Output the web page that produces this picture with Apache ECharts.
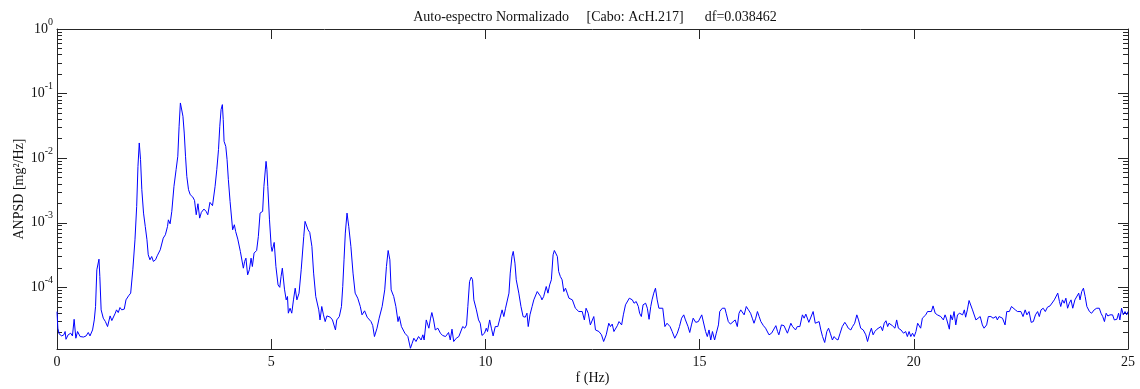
<!DOCTYPE html>
<html><head><meta charset="utf-8">
<script src="https://cdn.jsdelivr.net/npm/echarts@6.0.0/dist/echarts.min.js"></script>
<style>html,body{margin:0;padding:0;background:#fff}#chart{width:1140px;height:389px}</style>
</head><body><div id="chart"></div>
<script>
const titleText = 'Auto-espectro Normalizado     [Cabo: AcH.217]      df=0.038462';
const xAxisName = 'f (Hz)';
const yAxisName = 'ANPSD [mg\u00B2/Hz]';
const xTicks = [0, 5, 10, 15, 20, 25];
const yRange = [1.11e-5, 1];

const freqHz = [
0, 0.02, 0.05, 0.11, 0.16, 0.19, 0.21, 0.26, 0.32, 0.36,
0.40, 0.44, 0.48, 0.54, 0.62, 0.68, 0.73, 0.77, 0.83, 0.87,
0.90, 0.93, 0.98, 1.00, 1.03, 1.08, 1.13, 1.18, 1.24, 1.28,
1.32, 1.36, 1.39, 1.43, 1.47, 1.51, 1.57, 1.61, 1.67, 1.72,
1.77, 1.82, 1.86, 1.89, 1.92, 1.95, 1.98, 2.02, 2.06, 2.10,
2.13, 2.17, 2.21, 2.25, 2.30, 2.34, 2.41, 2.45, 2.48, 2.53,
2.58, 2.60, 2.64, 2.68, 2.73, 2.78, 2.82, 2.85, 2.88, 2.91,
2.94, 2.97, 3.00, 3.03, 3.07, 3.11, 3.17, 3.21, 3.25, 3.29,
3.33, 3.37, 3.43, 3.48, 3.52, 3.57, 3.63, 3.69, 3.73, 3.77,
3.80, 3.83, 3.86, 3.88, 3.90, 3.94, 3.97, 4.00, 4.04, 4.10,
4.14, 4.17, 4.22, 4.28, 4.31, 4.35, 4.38, 4.41, 4.45, 4.49,
4.53, 4.56, 4.60, 4.66, 4.70, 4.74, 4.80, 4.83, 4.88, 4.90,
4.92, 4.96, 5.00, 5.02, 5.07, 5.11, 5.16, 5.20, 5.23, 5.26,
5.31, 5.35, 5.38, 5.40, 5.44, 5.48, 5.52, 5.56, 5.60, 5.65,
5.70, 5.76, 5.79, 5.82, 5.86, 5.90, 5.95, 5.99, 6.04, 6.11,
6.14, 6.18, 6.22, 6.26, 6.30, 6.38, 6.43, 6.50, 6.53, 6.59,
6.64, 6.67, 6.70, 6.73, 6.77, 6.81, 6.86, 6.91, 6.96, 7.02,
7.08, 7.12, 7.18, 7.24, 7.27, 7.33, 7.37, 7.41, 7.47, 7.52,
7.59, 7.65, 7.69, 7.73, 7.77, 7.80, 7.86, 7.91, 7.96, 7.99,
8.04, 8.07, 8.12, 8.19, 8.25, 8.29, 8.33, 8.38, 8.44, 8.50,
8.54, 8.57, 8.62, 8.68, 8.72, 8.75, 8.79, 8.83, 8.89, 8.95,
9.00, 9.07, 9.10, 9.14, 9.18, 9.22, 9.26, 9.32, 9.38, 9.42,
9.47, 9.52, 9.56, 9.59, 9.63, 9.67, 9.70, 9.73, 9.79, 9.84,
9.88, 9.92, 9.98, 10.02, 10.05, 10.10, 10.14, 10.18, 10.23, 10.29,
10.33, 10.39, 10.43, 10.47, 10.51, 10.55, 10.58, 10.62, 10.65, 10.69,
10.72, 10.78, 10.83, 10.88, 10.93, 10.97, 11.00, 11.04, 11.09, 11.13,
11.17, 11.21, 11.25, 11.29, 11.32, 11.36, 11.42, 11.46, 11.50, 11.54,
11.58, 11.61, 11.64, 11.68, 11.71, 11.75, 11.79, 11.83, 11.87, 11.91,
11.95, 11.99, 12.03, 12.06, 12.10, 12.14, 12.18, 12.22, 12.26, 12.31,
12.35, 12.40, 12.45, 12.49, 12.53, 12.57, 12.61, 12.65, 12.71, 12.76,
12.82, 12.88, 12.92, 12.96, 13.00, 13.04, 13.08, 13.12, 13.18, 13.22,
13.27, 13.31, 13.36, 13.43, 13.47, 13.52, 13.57, 13.60, 13.64, 13.68,
13.74, 13.78, 13.82, 13.86, 13.89, 13.93, 13.97, 14.01, 14.05, 14.09,
14.14, 14.19, 14.24, 14.31, 14.36, 14.42, 14.48, 14.53, 14.58, 14.63,
14.67, 14.73, 14.77, 14.81, 14.85, 14.91, 14.97, 15.05, 15.09, 15.14,
15.18, 15.22, 15.26, 15.30, 15.35, 15.39, 15.44, 15.47, 15.53, 15.59,
15.62, 15.67, 15.72, 15.76, 15.83, 15.88, 15.92, 15.96, 16.00, 16.04,
16.09, 16.14, 16.19, 16.23, 16.27, 16.31, 16.35, 16.39, 16.43, 16.49,
16.54, 16.58, 16.62, 16.68, 16.72, 16.78, 16.82, 16.85, 16.91, 16.97,
17.01, 17.05, 17.09, 17.13, 17.17, 17.20, 17.24, 17.28, 17.34, 17.40,
17.44, 17.48, 17.52, 17.55, 17.59, 17.65, 17.70, 17.73, 17.79, 17.83,
17.87, 17.92, 17.97, 18.01, 18.05, 18.10, 18.14, 18.18, 18.23, 18.28,
18.33, 18.39, 18.43, 18.47, 18.53, 18.57, 18.62, 18.67, 18.71, 18.76,
18.82, 18.88, 18.92, 18.97, 19.01, 19.05, 19.09, 19.14, 19.17, 19.23,
19.27, 19.31, 19.35, 19.39, 19.42, 19.46, 19.50, 19.56, 19.60, 19.64,
19.70, 19.76, 19.81, 19.85, 19.89, 19.93, 19.97, 20.01, 20.05, 20.09,
20.12, 20.16, 20.20, 20.24, 20.28, 20.32, 20.36, 20.41, 20.45, 20.50,
20.55, 20.63, 20.69, 20.73, 20.76, 20.83, 20.86, 20.90, 20.94, 20.98,
21.02, 21.07, 21.14, 21.18, 21.21, 21.25, 21.29, 21.33, 21.37, 21.41,
21.45, 21.49, 21.55, 21.60, 21.64, 21.70, 21.74, 21.80, 21.85, 21.92,
21.95, 21.99, 22.03, 22.07, 22.13, 22.17, 22.23, 22.28, 22.32, 22.37,
22.42, 22.50, 22.55, 22.60, 22.64, 22.69, 22.74, 22.79, 22.84, 22.89,
22.93, 22.97, 23.02, 23.07, 23.12, 23.18, 23.22, 23.28, 23.32, 23.36,
23.40, 23.43, 23.47, 23.51, 23.55, 23.59, 23.63, 23.67, 23.71, 23.76,
23.80, 23.85, 23.88, 23.92, 23.96, 24.00, 24.04, 24.10, 24.15, 24.21,
24.27, 24.33, 24.37, 24.41, 24.45, 24.49, 24.53, 24.58, 24.64, 24.68,
24.74, 24.78, 24.81, 24.85, 24.89, 24.93, 24.97, 25.00
];

const anpsd = [
4.2e-5, 2.33e-5, 1.9e-5, 1.77e-5, 1.84e-5, 2.07e-5, 1.57e-5, 1.84e-5, 1.95e-5, 1.77e-5,
3.2e-5, 1.63e-5, 2.07e-5, 1.73e-5, 1.7e-5, 1.77e-5, 2.0e-5, 1.77e-5, 2.19e-5, 3.13e-5,
5.05e-5, 1.87e-4, 2.73e-4, 1.47e-4, 4.48e-5, 3.33e-5, 2.95e-5, 2.47e-5, 3.61e-5, 3.06e-5,
3.2e-5, 3.98e-5, 4.48e-5, 4.07e-5, 4.87e-5, 4.48e-5, 4.6e-5, 6.4e-5, 7.38e-5, 8.13e-5,
1.87e-4, 5.45e-4, 1.79e-3, 7.46e-3, 1.72e-2, 9.5e-3, 3.25e-3, 1.41e-3, 8.77e-4, 5.45e-4,
3.19e-4, 2.67e-4, 3.0e-4, 2.52e-4, 2.67e-4, 3.08e-4, 3.81e-4, 4.04e-4, 5.78e-4, 6.52e-4,
8.77e-4, 1.11e-3, 9.64e-4, 1.5e-3, 3.66e-3, 6.64e-3, 1.07e-2, 3.12e-2, 7.16e-2, 6.75e-2,
4.45e-2, 2.45e-2, 1.07e-2, 5.23e-3, 3.25e-3, 2.72e-3, 2.5e-3, 2.22e-3, 1.33e-3, 1.97e-3,
1.18e-3, 1.45e-3, 1.63e-3, 1.5e-3, 1.33e-3, 2.07e-3, 1.84e-3, 3.66e-3, 6.64e-3, 1.36e-2,
3.12e-2, 5.65e-2, 6.75e-2, 3.95e-2, 1.82e-2, 1.52e-2, 9.5e-3, 4.65e-3, 2.14e-3, 7.78e-4,
9.31e-4, 7.34e-4, 5.58e-4, 3.6e-4, 3.39e-4, 1.98e-4, 2.52e-4, 2.83e-4, 1.56e-4, 1.87e-4,
2.83e-4, 2.1e-4, 3.39e-4, 3.72e-4, 6.14e-4, 1.41e-3, 1.5e-3, 3.66e-3, 8.93e-3, 6.64e-3,
3.66e-3, 1.11e-3, 4.3e-4, 3.6e-4, 4.96e-4, 2.1e-4, 1.09e-4, 1.0e-4, 1.47e-4, 1.98e-4,
9.37e-5, 6.4e-5, 7.21e-5, 3.98e-5, 4.75e-5, 3.98e-5, 6.4e-5, 9.7e-5, 6.4e-5, 8.13e-5,
1.87e-4, 6.14e-4, 1.05e-3, 1.11e-3, 7.78e-4, 7.08e-4, 4.3e-4, 1.66e-4, 7.21e-5, 4.48e-5,
3.13e-5, 5.05e-5, 3.75e-5, 2.95e-5, 3.61e-5, 3.45e-5, 3.13e-5, 2.19e-5, 3.13e-5, 3.53e-5,
5.05e-5, 1.03e-4, 2.67e-4, 6.92e-4, 1.41e-3, 8.77e-4, 4.3e-4, 1.66e-4, 8.13e-5, 6.79e-5,
5.05e-5, 3.75e-5, 4.33e-5, 3.45e-5, 3.33e-5, 2.95e-5, 2.56e-5, 1.73e-5, 2.33e-5, 3.33e-5,
5.05e-5, 9.14e-5, 2.1e-4, 3.72e-4, 2.67e-4, 9.14e-5, 7.21e-5, 5.05e-5, 2.95e-5, 3.53e-5,
2.47e-5, 2.62e-5, 1.95e-5, 1.73e-5, 1.14e-5, 1.36e-5, 1.63e-5, 1.45e-5, 1.73e-5, 1.53e-5,
1.84e-5, 1.53e-5, 3.13e-5, 2.33e-5, 3.33e-5, 4.07e-5, 3.13e-5, 2.19e-5, 2.33e-5, 1.95e-5,
1.8e-5, 1.73e-5, 1.63e-5, 2.0e-5, 1.53e-5, 2.25e-5, 1.45e-5, 1.63e-5, 1.73e-5, 1.84e-5,
2.47e-5, 2.33e-5, 2.62e-5, 5.05e-5, 1.23e-4, 1.44e-4, 1.31e-4, 6.4e-5, 4.48e-5, 3.13e-5,
2.78e-5, 1.8e-5, 1.95e-5, 2.33e-5, 2.07e-5, 3.13e-5, 2.33e-5, 1.77e-5, 2.47e-5, 2.47e-5,
2.33e-5, 4.48e-5, 3.53e-5, 4.75e-5, 5.05e-5, 8.13e-5, 1.66e-4, 3.0e-4, 3.6e-4, 2.37e-4,
1.31e-4, 8.13e-5, 5.05e-5, 3.53e-5, 3.45e-5, 3.98e-5, 2.47e-5, 3.75e-5, 5.05e-5, 6.4e-5,
6.03e-5, 8.61e-5, 8.13e-5, 7.21e-5, 6.4e-5, 7.21e-5, 1.03e-4, 8.13e-5, 1.09e-4, 1.31e-4,
3.19e-4, 3.72e-4, 3.81e-4, 3.0e-4, 1.76e-4, 1.47e-4, 1.31e-4, 8.61e-5, 9.7e-5, 8.13e-5,
6.79e-5, 6.4e-5, 6.4e-5, 6.03e-5, 4.75e-5, 4.48e-5, 4.22e-5, 4.48e-5, 4.22e-5, 3.13e-5,
4.75e-5, 3.97e-5, 2.62e-5, 2.78e-5, 3.53e-5, 2.19e-5, 2.33e-5, 2.07e-5, 1.84e-5, 1.45e-5,
1.84e-5, 2.78e-5, 2.47e-5, 2.7e-5, 2.07e-5, 2.0e-5, 2.55e-5, 2.95e-5, 2.62e-5, 3.75e-5,
5.36e-5, 5.05e-5, 6.79e-5, 6.4e-5, 5.68e-5, 6.03e-5, 5.05e-5, 3.97e-5, 3.53e-5, 5.36e-5,
5.68e-5, 4.75e-5, 3.2e-5, 5.05e-5, 6.4e-5, 8.13e-5, 9.7e-5, 6.4e-5, 4.75e-5, 5.05e-5,
4.75e-5, 2.47e-5, 2.78e-5, 2.47e-5, 2.07e-5, 1.63e-5, 1.95e-5, 2.47e-5, 3.33e-5, 3.75e-5,
3.13e-5, 2.47e-5, 2.0e-5, 2.62e-5, 3.33e-5, 2.87e-5, 2.95e-5, 3.75e-5, 3.53e-5, 2.07e-5,
1.73e-5, 2.19e-5, 1.53e-5, 2.07e-5, 1.53e-5, 1.95e-5, 2.62e-5, 4.22e-5, 4.75e-5, 4.75e-5,
3.97e-5, 2.95e-5, 2.7e-5, 2.78e-5, 3.13e-5, 2.47e-5, 3.97e-5, 4.48e-5, 4.22e-5, 3.75e-5,
5.05e-5, 4.48e-5, 3.97e-5, 3.33e-5, 2.78e-5, 3.33e-5, 4.22e-5, 3.53e-5, 2.95e-5, 2.55e-5,
2.33e-5, 2.47e-5, 1.84e-5, 1.95e-5, 2.07e-5, 2.55e-5, 2.07e-5, 1.84e-5, 2.62e-5, 2.55e-5,
2.62e-5, 1.95e-5, 1.84e-5, 2.78e-5, 2.47e-5, 2.62e-5, 2.19e-5, 2.47e-5, 2.47e-5, 3.75e-5,
3.33e-5, 3.85e-5, 4.07e-5, 2.87e-5, 2.78e-5, 4.22e-5, 2.78e-5, 2.62e-5, 2.95e-5, 2.19e-5,
1.73e-5, 1.4e-5, 2.07e-5, 2.33e-5, 1.95e-5, 1.53e-5, 1.73e-5, 1.6e-5, 1.53e-5, 1.95e-5,
2.47e-5, 2.87e-5, 2.62e-5, 2.33e-5, 2.19e-5, 2.47e-5, 2.78e-5, 3.75e-5, 3.13e-5, 2.33e-5,
2.19e-5, 1.84e-5, 1.45e-5, 1.95e-5, 2.33e-5, 1.84e-5, 2.07e-5, 2.25e-5, 2.33e-5, 2.47e-5,
2.13e-5, 2.78e-5, 3.04e-5, 2.47e-5, 2.78e-5, 2.87e-5, 2.55e-5, 2.33e-5, 3.13e-5, 2.33e-5,
2.19e-5, 1.95e-5, 2.07e-5, 1.73e-5, 2.07e-5, 1.73e-5, 1.95e-5, 1.73e-5, 2.07e-5, 2.78e-5,
2.62e-5, 2.33e-5, 3.33e-5, 3.13e-5, 3.75e-5, 4.22e-5, 4.48e-5, 4.22e-5, 5.16e-5, 3.97e-5,
3.75e-5, 3.53e-5, 3.13e-5, 3.75e-5, 3.33e-5, 2.25e-5, 3.75e-5, 3.13e-5, 4.22e-5, 2.62e-5,
3.75e-5, 3.97e-5, 3.75e-5, 4.48e-5, 3.45e-5, 4.48e-5, 6.25e-5, 6.4e-5, 4.48e-5, 4.75e-5,
3.13e-5, 3.33e-5, 3.53e-5, 2.62e-5, 2.33e-5, 2.62e-5, 3.53e-5, 3.53e-5, 3.33e-5, 3.53e-5,
3.13e-5, 3.53e-5, 3.75e-5, 3.33e-5, 2.62e-5, 4.22e-5, 4.22e-5, 5.05e-5, 5.36e-5, 4.48e-5,
4.22e-5, 4.22e-5, 3.53e-5, 4.48e-5, 3.75e-5, 4.22e-5, 2.87e-5, 2.95e-5, 3.75e-5, 4.22e-5,
3.53e-5, 4.48e-5, 4.75e-5, 4.22e-5, 4.93e-5, 5.16e-5, 4.93e-5, 6.4e-5, 6.79e-5, 8.13e-5,
6.03e-5, 5.05e-5, 6.4e-5, 5.68e-5, 6.79e-5, 4.75e-5, 5.68e-5, 6.4e-5, 4.75e-5, 6.4e-5,
6.79e-5, 8.13e-5, 6.4e-5, 8.61e-5, 9.7e-5, 7.21e-5, 5.05e-5, 4.22e-5, 3.97e-5, 4.48e-5,
4.75e-5, 4.75e-5, 3.97e-5, 3.53e-5, 2.95e-5, 3.97e-5, 3.6e-5, 3.75e-5, 3.75e-5, 3.13e-5,
3.2e-5, 3.97e-5, 3.13e-5, 4.75e-5, 3.75e-5, 4.22e-5, 3.75e-5, 4.22e-5
];

const FONT = '"Liberation Serif", "Times New Roman", serif';
const TEXT = '#111111';
const AXIS = '#262626';
const chart = echarts.init(document.getElementById('chart'), null, { renderer: 'canvas' });

const n = Math.min(freqHz.length, anpsd.length);
const seriesData = [];
for (let i = 0; i < n; i++) seriesData.push([freqHz[i], anpsd[i]]);

const logMin = Math.log10(yRange[0]);
const logMax = Math.log10(yRange[1]);
const minorTicks = [];
for (let d = Math.floor(logMin); d < Math.ceil(logMax); d++) {
  for (let k = 2; k <= 9; k++) {
    const v = d + Math.log10(k);
    if (v > logMin && v < logMax) minorTicks.push(v);
  }
}

function expLabel(v) {
  const e = Math.log10(v);
  const r = Math.round(e);
  if (Math.abs(e - r) > 0.01) return '';
  return '{b|10}{e|' + r + '}';
}
const rich = {
  b: { fontFamily: FONT, fontSize: 14, color: TEXT, lineHeight: 24, verticalAlign: 'middle' },
  e: { fontFamily: FONT, fontSize: 10, color: TEXT, lineHeight: 10, verticalAlign: 'top' }
};

function logAxis(pos, withLabels) {
  return {
    type: 'log', logBase: 10, position: pos, min: yRange[0], max: yRange[1],
    axisLine: { show: true, lineStyle: { color: AXIS, width: 1 } },
    axisTick: { show: true, inside: true, length: 10, lineStyle: { color: AXIS, width: 1 } },
    axisLabel: withLabels ? { show: true, margin: 4, formatter: expLabel, rich: rich, color: TEXT } : { show: false },
    splitLine: { show: false }, minorTick: { show: false }, minorSplitLine: { show: false },
    name: withLabels ? yAxisName : '',
    nameLocation: 'middle', nameGap: 31, nameMoveOverlap: false,
    nameTextStyle: { fontFamily: FONT, fontSize: 14, color: TEXT }
  };
}
function minorAxis(pos) {
  return {
    type: 'value', position: pos, min: logMin, max: logMax,
    axisLine: { show: false },
    axisTick: { show: true, inside: true, length: 5, customValues: minorTicks, lineStyle: { color: AXIS, width: 1 } },
    axisLabel: { show: false }, splitLine: { show: false }
  };
}
function xAxis(pos, withLabels) {
  return {
    type: 'value', position: pos, min: xTicks[0], max: xTicks[xTicks.length - 1],
    interval: xTicks[1] - xTicks[0],
    axisLine: { show: true, onZero: false, lineStyle: { color: AXIS, width: 1 } },
    axisTick: { show: true, inside: true, length: 10, lineStyle: { color: AXIS, width: 1 } },
    axisLabel: withLabels ? { show: true, margin: 6, fontFamily: FONT, fontSize: 14, color: TEXT } : { show: false },
    splitLine: { show: false },
    name: withLabels ? xAxisName : '',
    nameLocation: 'middle', nameGap: 22, nameMoveOverlap: false,
    nameTextStyle: { fontFamily: FONT, fontSize: 14, color: TEXT }
  };
}

chart.setOption({
  animation: false,
  backgroundColor: '#ffffff',
  title: {
    text: titleText, left: 590, top: 5, textAlign: 'center',
    textStyle: { fontFamily: FONT, fontSize: 14, fontWeight: 'normal', color: TEXT }
  },
  grid: { left: 57, right: 12, top: 29, bottom: 40, containLabel: false, outerBoundsMode: 'none' },
  xAxis: [xAxis('bottom', true), xAxis('top', false)],
  yAxis: [logAxis('left', true), minorAxis('left'), logAxis('right', false), minorAxis('right')],
  series: [{
    type: 'line', data: seriesData, xAxisIndex: 0, yAxisIndex: 0,
    showSymbol: false, symbol: 'none', silent: true, clip: true,
    lineStyle: { color: '#0000ff', width: 1 }
  }]
});
</script></body></html>
